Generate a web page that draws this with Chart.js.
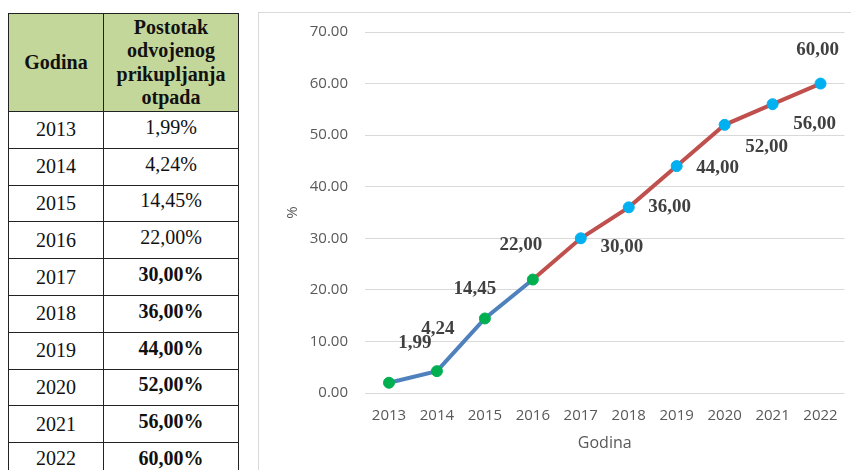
<!DOCTYPE html>
<html>
<head>
<meta charset="utf-8">
<script src="https://cdn.jsdelivr.net/npm/chart.js@4.4.1/dist/chart.umd.min.js"></script>
<style>
  html, body { margin: 0; padding: 0; background: #fff; width: 851px; height: 470px; overflow: hidden; }
  #tbl { position: absolute; left: 8px; top: 13px; border-collapse: collapse; font-family: "Liberation Serif", "Times New Roman", serif; font-size: 20px; color: #111; }
  #tbl td, #tbl th { border: 1px solid #222; padding: 0; text-align: center; vertical-align: middle; }
  #tbl th { background: #C4D79B; font-weight: bold; line-height: 23.5px; height: 97px; }
  #tbl td { height: 35.8px; }
  #tbl td.v { padding-bottom: 5px; height: 30.8px; }
  #tbl tr:last-child td { vertical-align: top; padding-top: 4px; height: 40px; }
  #box { position: absolute; left: 258px; top: 12px; width: 593px; height: 458px; border-left: 1px solid #D9D9D9; border-top: 1px solid #D9D9D9; }
  #c { position: absolute; left: 0; top: 0; }
</style>
</head>
<body>
<table id="tbl">
  <thead><tr><th style="width:94px">Godina</th><th style="width:134px">Postotak<br>odvojenog<br>prikupljanja<br>otpada</th></tr></thead>
  <tbody id="tb"></tbody>
</table>
<div id="box"><canvas id="c" width="592" height="457"></canvas></div>
<script>
// ---- data ----
const years = ['2013', '2014', '2015', '2016', '2017', '2018', '2019', '2020', '2021', '2022'];
const shares = [1.99, 4.24, 14.45, 22.00, 30.00, 36.00, 44.00, 52.00, 56.00, 60.00];
const splitYear = '2016';          // blue/green part ends here, red/blue part starts here
const boldFromYear = '2017';       // table rows shown in bold
const xTitle = 'Godina';
const yTitle = '%';

// ---- label placement (style) ----
const labelDx = [26, 1, -10, -12, 41, 41, 41, 42, 42, -3];
const labelDy = [-40, -42, -29, -34, 9, 0, 2, 22, 20, -33];

const fmt = v => v.toFixed(2).replace('.', ',');

// table
const tb = document.getElementById('tb');
years.forEach((y, i) => {
  const tr = document.createElement('tr');
  const bold = Number(y) >= Number(boldFromYear);
  tr.innerHTML = '<td>' + y + '</td><td class="v" style="font-weight:' + (bold ? 'bold' : 'normal') + '">' + fmt(shares[i]) + '%</td>';
  tb.appendChild(tr);
});

// chart series
const splitIdx = years.indexOf(splitYear);
const partA = shares.map((v, i) => i <= splitIdx ? v : null);
const partB = shares.map((v, i) => i >= splitIdx ? v : null);

const labelPlugin = {
  id: 'vals',
  afterDatasetsDraw(chart) {
    const ctx = chart.ctx;
    ctx.save();
    ctx.font = 'bold 19px "Liberation Serif", "Times New Roman", serif';
    ctx.fillStyle = '#404040';
    ctx.textAlign = 'center';
    ctx.textBaseline = 'middle';
    const mA = chart.getDatasetMeta(0), mB = chart.getDatasetMeta(1);
    years.forEach((y, i) => {
      const el = i <= splitIdx ? mA.data[i] : mB.data[i];
      ctx.fillText(fmt(shares[i]), el.x + labelDx[i], el.y + labelDy[i]);
    });
    ctx.restore();
  }
};

const axisFont = { family: '"Open Sans", "Noto Sans", sans-serif', size: 15 };
new Chart(document.getElementById('c'), {
  type: 'line',
  data: {
    labels: years,
    datasets: [
      { data: partA, borderColor: '#4F81BD', borderWidth: 4, backgroundColor: '#00B050',
        pointBackgroundColor: '#00B050', pointBorderColor: '#00B050', pointRadius: 5.5, pointBorderWidth: 1, fill: false, tension: 0 },
      { data: partB, borderColor: '#C0504D', borderWidth: 4, backgroundColor: '#00B0F0',
        pointBackgroundColor: '#00B0F0', pointBorderColor: '#00B0F0',
        pointRadius: years.map((y, i) => i === splitIdx ? 0 : 5.5), pointBorderWidth: 1, fill: false, tension: 0 }
    ]
  },
  options: {
    responsive: false,
    devicePixelRatio: 1,
    animation: false,
    events: [],
    layout: { padding: { top: 19, right: 6, left: 0, bottom: 0 } },
    plugins: { legend: { display: false }, tooltip: { enabled: false } },
    scales: {
      x: {
        offset: true,
        grid: { display: false },
        border: { display: false },
        ticks: { font: axisFont, color: '#595959', padding: 6, maxRotation: 0 },
        title: { display: true, text: xTitle, font: { family: axisFont.family, size: 16 }, color: '#595959', padding: { top: 0, bottom: 17 } },
        afterFit(s) { s.height = 77; s.paddingLeft = 0; s.paddingRight = 0; }
      },
      y: {
        min: 0, max: 70,
        ticks: { stepSize: 10, font: axisFont, color: '#595959', padding: 17, callback: v => Number(v).toFixed(2) },
        grid: { color: '#D9D9D9', lineWidth: 1, drawTicks: false },
        border: { display: false },
        title: { display: true, text: yTitle, font: { family: axisFont.family, size: 15 }, color: '#595959', padding: { top: 25, bottom: 0 } },
        afterFit(s) { s.width = 106; s.paddingTop = 0; s.paddingBottom = 0; }
      }
    }
  },
  plugins: [labelPlugin]
});
</script>
</body>
</html>
